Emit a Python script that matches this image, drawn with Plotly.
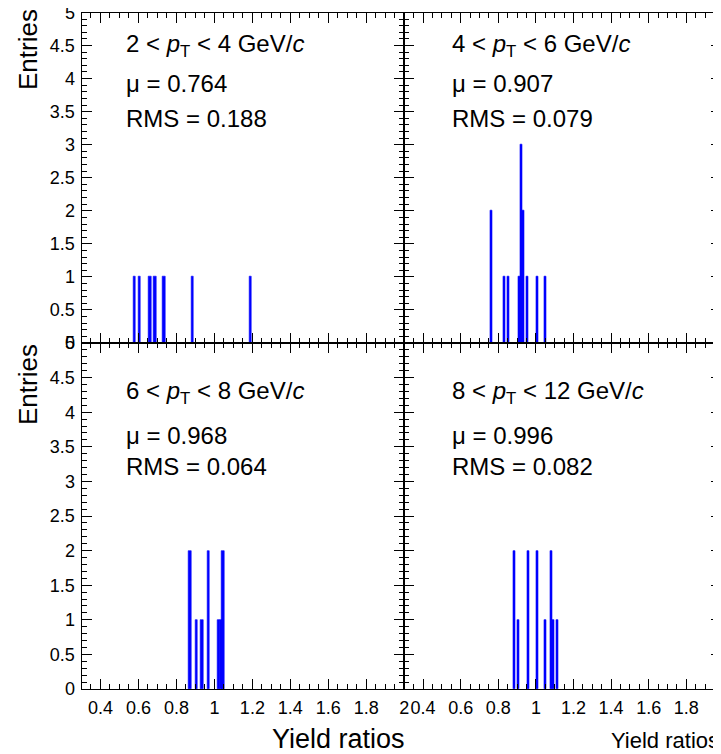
import plotly.graph_objects as go

# ---------------- data ----------------
pt_ranges = ["2 &lt; <i>p</i><sub>T</sub> &lt; 4 GeV/<i>c</i>",
             "4 &lt; <i>p</i><sub>T</sub> &lt; 6 GeV/<i>c</i>",
             "6 &lt; <i>p</i><sub>T</sub> &lt; 8 GeV/<i>c</i>",
             "8 &lt; <i>p</i><sub>T</sub> &lt; 12 GeV/<i>c</i>"]
mu_values = ["0.764", "0.907", "0.968", "0.996"]
rms_values = ["0.188", "0.079", "0.064", "0.082"]

p1_centers = [0.579, 0.607, 0.661, 0.687, 0.734, 0.886, 1.189]
p1_counts = [1, 1, 1, 1, 1, 1, 1]

p2_centers = [0.764, 0.830, 0.853, 0.910, 0.921, 0.932, 0.954, 1.007, 1.049]
p2_counts = [2, 1, 1, 1, 3, 2, 1, 1, 1]

p3_centers = [0.872, 0.907, 0.935, 0.970, 1.023, 1.034, 1.045]
p3_counts = [2, 1, 1, 2, 1, 1, 2]

p4_centers = [0.886, 0.907, 0.961, 1.009, 1.050, 1.083, 1.094, 1.115]
p4_counts = [2, 1, 2, 2, 1, 2, 1, 1]

x_tick_vals = [0.4, 0.6, 0.8, 1.0, 1.2, 1.4, 1.6, 1.8, 2.0]
x_tick_text = ["0.4", "0.6", "0.8", "1", "1.2", "1.4", "1.6", "1.8", "2"]
y_tick_vals = [0, 0.5, 1, 1.5, 2, 2.5, 3, 3.5, 4, 4.5, 5]
y_tick_text = ["0", "0.5", "1", "1.5", "2", "2.5", "3", "3.5", "4", "4.5", "5"]
bin_width = 0.012

# ---------------- layout geometry ----------------
# the page body has an 8px margin, so the figure is offset by (8, 8)
OFF = 8
W, H = 721 - OFF, 754 - OFF
FONT = "Liberation Sans, Arial, Helvetica, sans-serif"

def px_x(p):
    return (p - OFF) / W

def px_y(p):
    return 1 - (p - OFF) / H

xL = [px_x(81.5), px_x(404.3)]
xR = [px_x(404.3), 1.0]
yT = [px_y(343), px_y(12.5)]
yB = [px_y(689), px_y(343)]
right_xmax = 0.3 + (721 - 404.3) / 188.0

fig = go.Figure()

panels = [
    (p1_centers, p1_counts, "x", "y"),
    (p2_centers, p2_counts, "x2", "y2"),
    (p3_centers, p3_counts, "x3", "y3"),
    (p4_centers, p4_counts, "x4", "y4"),
]
for centers, counts, xa, ya in panels:
    fig.add_trace(go.Bar(
        x=centers, y=counts, width=bin_width,
        marker=dict(color="#0000ff", line=dict(color="#0000ff", width=0.6)),
        xaxis=xa, yaxis=ya, showlegend=False, hoverinfo="skip",
    ))

def xaxis(domain, rng, anchor, labels):
    return dict(
        domain=domain, range=rng, anchor=anchor, automargin=False,
        showline=True, linecolor="black", linewidth=1, mirror="ticks",
        ticks="inside", ticklen=10, tickwidth=1, tickcolor="black",
        tickvals=x_tick_vals, ticktext=x_tick_text,
        showticklabels=labels, showgrid=False, zeroline=False,
        tickfont=dict(family=FONT, size=18, color="black"),
        ticklabelstandoff=2, ticklabeloverflow="allow",
        minor=dict(dtick=0.05, tick0=0.3, ticks="inside", ticklen=5,
                   tickwidth=1, tickcolor="black", showgrid=False),
    )

def yaxis(domain, anchor, labels):
    return dict(
        domain=domain, range=[0, 5], anchor=anchor, automargin=False,
        showline=True, linecolor="black", linewidth=1, mirror="ticks",
        ticks="inside", ticklen=10, tickwidth=1, tickcolor="black",
        tickvals=y_tick_vals, ticktext=y_tick_text,
        showticklabels=labels, showgrid=False, zeroline=False,
        tickfont=dict(family=FONT, size=18, color="black"),
        ticklabelstandoff=2, ticklabeloverflow="allow",
        minor=dict(dtick=0.1, tick0=0, ticks="inside", ticklen=5,
                   tickwidth=1, tickcolor="black", showgrid=False),
    )

fig.update_layout(
    template="none",
    width=W, height=H,
    margin=dict(l=0, r=0, t=0, b=0, pad=0, autoexpand=False),
    paper_bgcolor="white", plot_bgcolor="white",
    bargap=0,
    xaxis=xaxis(xL, [0.3, 2.0], "y", False),
    yaxis=yaxis(yT, "x", True),
    xaxis2=xaxis(xR, [0.3, right_xmax], "y2", False),
    yaxis2=yaxis(yT, "x2", False),
    xaxis3=xaxis(xL, [0.3, 2.0], "y3", True),
    yaxis3=yaxis(yB, "x3", True),
    xaxis4=xaxis(xR, [0.3, right_xmax], "y4", True),
    yaxis4=yaxis(yB, "x4", False),
)

annotations = []
text_x = [124, 450, 124, 450]
text_y = [(45, 84, 119), (45, 84, 119), (392, 435, 466), (392, 435, 466)]
for i in range(4):
    ys = text_y[i]
    lines = [pt_ranges[i], "μ = " + mu_values[i], "RMS = " + rms_values[i]]
    for line, yy in zip(lines, ys):
        annotations.append(dict(
            text=line, x=px_x(text_x[i]), y=px_y(yy), xref="paper", yref="paper",
            xanchor="left", yanchor="middle", showarrow=False,
            font=dict(family=FONT, size=24, color="black"),
        ))

for yc in (50, 385):
    annotations.append(dict(
        text="Entries", x=px_x(28), y=px_y(yc), xref="paper", yref="paper",
        xanchor="center", yanchor="middle", textangle=-90, showarrow=False,
        font=dict(family=FONT, size=26, color="black"),
    ))

annotations.append(dict(
    text="Yield ratios", x=px_x(338), y=px_y(739), xref="paper", yref="paper",
    xanchor="center", yanchor="middle", showarrow=False,
    font=dict(family=FONT, size=27, color="black"),
))
annotations.append(dict(
    text="Yield ratios", x=px_x(665), y=px_y(740), xref="paper", yref="paper",
    xanchor="center", yanchor="middle", showarrow=False,
    font=dict(family=FONT, size=22, color="black"),
))

fig.update_layout(annotations=annotations)
fig.write_html("out.html")
